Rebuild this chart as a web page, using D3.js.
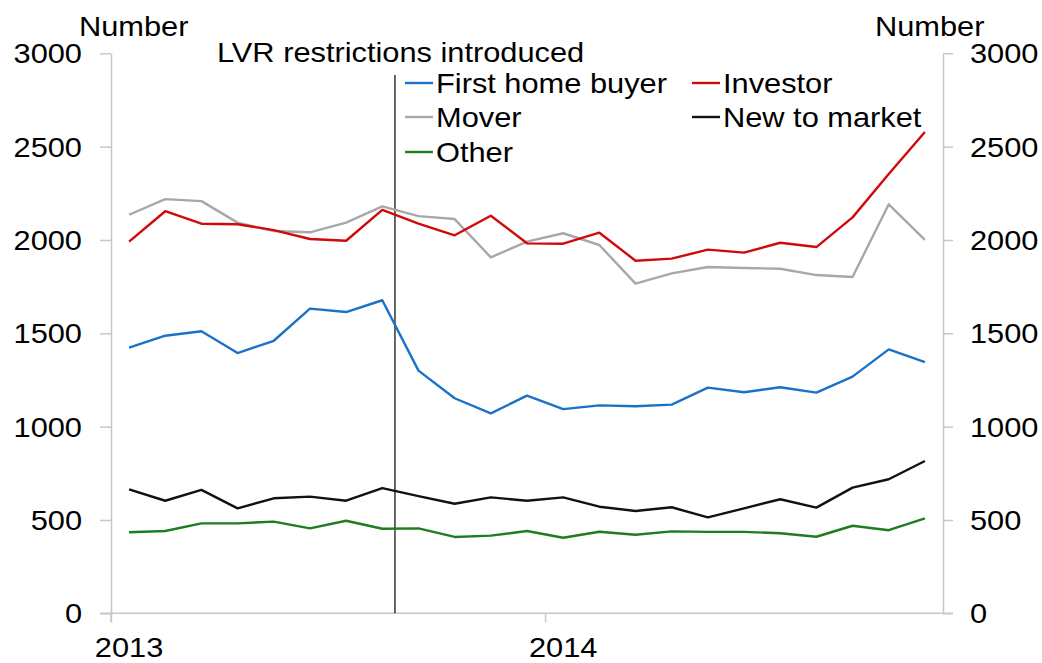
<!DOCTYPE html>
<html><head><meta charset="utf-8">
<script src="https://cdn.jsdelivr.net/npm/d3@7"></script>
<style>
html,body{margin:0;padding:0;background:#fff;}
text{font-family:"Liberation Sans",Arial,sans-serif;fill:#000;}
</style></head>
<body><svg id="chart" width="1042" height="663"></svg>
<script>
// Monthly data, Jan 2013 – Nov 2014
const months = d3.range(23); // month index from Jan 2013
const firstHomeBuyer = [1423,1487,1511,1394,1460,1632,1614,1677,1300,1152,1071,1166,1094,1114,1109,1118,1209,1184,1211,1182,1268,1414,1345];
const investor      = [1991,2154,2087,2084,2053,2005,1996,2161,2088,2025,2130,1982,1980,2039,1889,1900,1948,1932,1985,1962,2121,2353,2578];
const mover         = [2135,2219,2208,2093,2048,2041,2093,2180,2128,2112,1907,1991,2036,1973,1766,1821,1855,1850,1846,1812,1802,2191,2000];
const newToMarket   = [664,603,661,562,616,625,603,671,628,587,621,603,621,571,548,568,514,562,611,566,673,718,816];
const other         = [434,441,482,482,491,455,496,453,455,409,416,441,405,437,421,439,436,436,429,410,469,445,509];
const yTicks = [0,500,1000,1500,2000,2500,3000];
const xTickMonths = [0,12];
const xTickLabels = ["2013","2014"];
const lvrMonth = 7.85; // LVR restrictions introduced
const lvrLabel = "LVR restrictions introduced";
const seriesNames = ["First home buyer","Investor","Mover","New to market","Other"];
const seriesColors = ["#1a72c8","#d00a0a","#a8a8a8","#111111","#1e7d1e"];
const seriesValues = [firstHomeBuyer, investor, mover, newToMarket, other];

const svg = d3.select("#chart");
const L = 111, R = 943, T = 53.3, B = 613.3;
const x = d3.scaleLinear().domain([0,23]).range([L,R]);
const y = d3.scaleLinear().domain([0,3000]).range([B,T]);
const axisColor = "#c8c8c8";
const fs = 28.5, sx = 1.08;

function addText(px, py, str, anchor){
  return svg.append("text")
    .attr("transform",`translate(${px},${py}) scale(${sx},1)`)
    .attr("text-anchor",anchor||"start")
    .style("font-size",fs+"px").text(str);
}

// left axis
const gl = svg.append("g").attr("transform",`translate(${L},0)`)
  .call(d3.axisLeft(y).tickValues(yTicks).tickSize(11).tickSizeOuter(0).tickFormat(""));
gl.select(".domain").attr("stroke",axisColor).attr("stroke-width",1.5);
gl.selectAll(".tick line").attr("stroke",axisColor).attr("stroke-width",1.5);
svg.append("line").attr("x1",L).attr("x2",L).attr("y1",B).attr("y2",B+9).attr("stroke",axisColor).attr("stroke-width",1.5);
yTicks.forEach(v=>addText(82, y(v)+10, d3.format("d")(v), "end"));

// right axis
const gr = svg.append("g").attr("transform",`translate(${R},0)`)
  .call(d3.axisRight(y).tickValues(yTicks).tickSize(10).tickSizeOuter(0).tickFormat(""));
gr.select(".domain").attr("stroke",axisColor).attr("stroke-width",1.5);
gr.selectAll(".tick line").attr("stroke",axisColor).attr("stroke-width",1.5);
yTicks.forEach(v=>addText(970, y(v)+10, d3.format("d")(v), "start"));

// bottom axis
svg.append("line").attr("x1",L-11).attr("x2",R+10).attr("y1",B).attr("y2",B).attr("stroke",axisColor).attr("stroke-width",1.5);
const gb = svg.append("g").attr("transform",`translate(0,${B})`)
  .call(d3.axisBottom(x).tickValues(xTickMonths).tickSize(9).tickFormat(""));
gb.select(".domain").remove();
gb.selectAll(".tick line").attr("stroke",axisColor).attr("stroke-width",1.5);
xTickMonths.forEach((m,i)=>addText(x(m+0.5), 657, xTickLabels[i], "middle"));

// axis titles
addText(79, 36, "Number");
addText(875, 36, "Number");

// LVR line
svg.append("line").attr("x1",x(lvrMonth)).attr("x2",x(lvrMonth)).attr("y1",75).attr("y2",B)
  .attr("stroke","#000").attr("stroke-width",1.2);
addText(217, 62, lvrLabel);

// lines
const line = d3.line().x((d,i)=>x(months[i]+0.5)).y(d=>y(d));
[2,1,0,3,4].forEach(k=>{
  svg.append("path").datum(seriesValues[k]).attr("d",line)
    .attr("fill","none").attr("stroke",seriesColors[k]).attr("stroke-width",2.4)
    .attr("stroke-linejoin","round");
});

// legend
const legendPos = [[405,83],[692,83],[405,117],[692,117],[405,152]];
seriesNames.forEach((name,i)=>{
  const [lx,ly] = legendPos[i];
  svg.append("line").attr("x1",lx).attr("x2",lx+28).attr("y1",ly).attr("y2",ly)
    .attr("stroke",seriesColors[i]).attr("stroke-width",2.4);
  addText(lx+31, ly+10, name);
});
</script></body></html>
